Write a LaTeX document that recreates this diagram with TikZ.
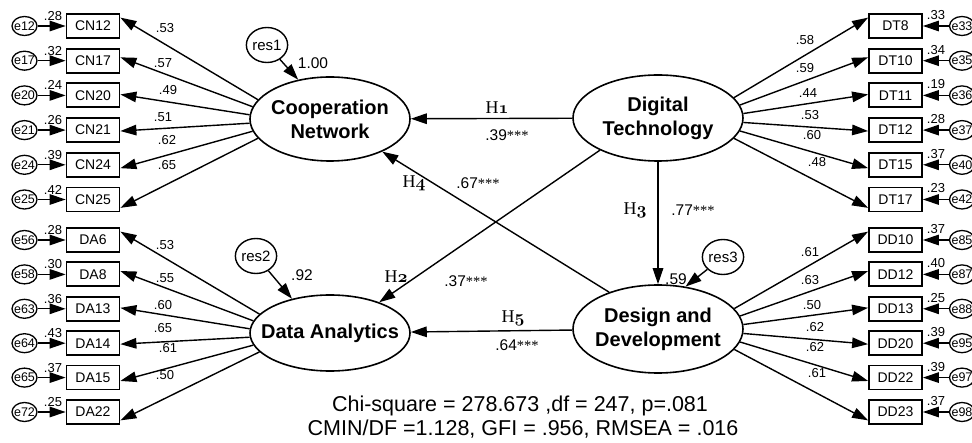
\documentclass[tikz,border=0pt]{standalone}
\usepackage{fontspec}
\setmainfont{Liberation Sans}
\newfontfamily\serifH{Liberation Serif}
\usetikzlibrary{arrows.meta,shapes.geometric}
\newcommand\zb[1]{\makebox[0pt]{#1}}
\newcommand\stars{{\serifH\fontsize{14.5}{16}\selectfont ***}}
\newcommand\hlab[1]{H{\boldmath$\mathnormal{#1}$}}
\tikzset{
 arr/.style={-{Triangle[length=16pt,width=10.5pt]}, line width=1.4pt},
 obs/.style={draw, line width=1.8pt, minimum width=53pt, minimum height=24pt, inner sep=0pt, font=\fontsize{14}{16}\selectfont},
 err/.style={draw, ellipse, line width=1.3pt, minimum width=25pt, minimum height=19pt, inner sep=0pt, font=\fontsize{12.5}{14}\selectfont},
 lat/.style={draw, ellipse, line width=1.6pt, inner sep=0pt, align=center, font=\bfseries\fontsize{20}{24}\selectfont},
 res/.style={draw, ellipse, line width=1.4pt, minimum width=40pt, minimum height=35pt, inner sep=0pt, font=\fontsize{15}{17}\selectfont},
 num/.style={inner sep=0pt, font=\fontsize{13}{15}\selectfont},
 coef/.style={inner sep=0pt, font=\fontsize{15.5}{17}\selectfont},
 hyp/.style={inner sep=0pt, font=\serifH\fontsize{18}{20}\selectfont},
 fitstat/.style={inner sep=0pt, font=\fontsize{21.5}{26}\selectfont},
}
\begin{document}
\begin{tikzpicture}[x=1pt,y=-1pt]
\useasboundingbox (0,0) rectangle (972,443);
% latent variables
\node[lat, minimum width=160pt, minimum height=84pt] (cn) at (330,119) {\zb{Cooperation}\\\zb{Network}};
\node[lat, minimum width=170pt, minimum height=86pt] (dt) at (658,118) {\zb{Digital}\\\zb{Technology}};
\node[lat, minimum width=160pt, minimum height=76pt] (da) at (330,333) {\zb{Data Analytics}};
\node[lat, minimum width=170pt, minimum height=88pt] (dd) at (658,329) {\zb{Design and}\\\zb{Development}};
% residuals
\node[res] (res1) at (267,45) {res1};
\node[res] (res2) at (256,256) {res2};
\node[res] (res3) at (723,257) {res3};
\draw[arr] (res1) -- (cn.129);
\draw[arr] (res2) -- (da.138);
\draw[arr] (res3) -- (dd.57);
\node[coef] (v1) at (313,63) {1.00};
\node[coef] (v2) at (302,275) {.92};
\node[coef] (v3) at (676,279) {.59};
% left top
\foreach \vn/\ve/\vr/\vy/\va/\vb/\vl/\lx/\ly in {
 CN12/e12/.28/26/165/17/.53/165/28,
 CN17/e17/.32/60.7/171/7/.57/163/63,
 CN20/e20/.24/95.4/177/2/.49/168/90,
 CN21/e21/.26/130.1/183/-2/.51/163/117,
 CN24/e24/.39/164.8/189/-7/.62/167/140,
 CN25/e25/.42/199.5/195/-17/.65/167/165}{
 \node[obs] (\vn) at (93,\vy) {\vn};
 \node[err] (\ve) at (24.5,\vy) {\zb{\ve}};
 \node[num] (r\vn) at (53,\vy-10) {\vr};
 \node[num] (l\vn) at (\lx,\ly) {\vl};
 \draw[arr] (\ve) -- (\vn);
 \draw[arr] (cn.\va) -- (\vn.\vb);
}
% left bottom
\foreach \vn/\ve/\vr/\vy/\va/\vb/\vl/\lx/\ly in {
 DA6/e56/.28/240/165/17/.53/165/245,
 DA8/e58/.30/274.4/171/7/.55/165/278,
 DA13/e63/.36/308.8/177/2/.60/163/305,
 DA14/e64/.43/343.2/183/-2/.65/163/328,
 DA15/e65/.37/377.6/189/-7/.61/168/348,
 DA22/e72/.25/412/195/-17/.50/165/375}{
 \node[obs] (\vn) at (93,\vy) {\vn};
 \node[err] (\ve) at (24.5,\vy) {\zb{\ve}};
 \node[num] (r\vn) at (53,\vy-10) {\vr};
 \node[num] (l\vn) at (\lx,\ly) {\vl};
 \draw[arr] (\ve) -- (\vn);
 \draw[arr] (da.\va) -- (\vn.\vb);
}
% right top
\foreach \vn/\ve/\vr/\vy/\va/\vb/\vl/\lx/\ly in {
 DT8/e33/.33/26/15/163/.58/805/40,
 DT10/e35/.34/60.7/9/173/.59/805/68,
 DT11/e36/.19/95.4/3/178/.44/808/93,
 DT12/e37/.28/130.1/-3/182/.53/810/115,
 DT15/e40/.37/164.8/-9/187/.60/812/135,
 DT17/e42/.23/199.5/-15/197/.48/817/162}{
 \node[obs] (\vn) at (895.5,\vy) {\vn};
 \node[err] (\ve) at (962,\vy) {\zb{\ve}};
 \node[num] (r\vn) at (936,\vy-11) {\vr};
 \node[num] (l\vn) at (\lx,\ly) {\vl};
 \draw[arr] (\ve) -- (\vn);
 \draw[arr] (dt.\va) -- (\vn.\vb);
}
% right bottom
\foreach \vn/\ve/\vr/\vy/\va/\vb/\vl/\lx/\ly in {
 DD10/e85/.37/240/15/163/.61/810/252,
 DD12/e87/.40/274.4/9/173/.63/810/280,
 DD13/e88/.25/308.8/3/178/.50/812/305,
 DD20/e95/.39/343.2/-3/182/.62/815/327,
 DD22/e97/.39/377.6/-9/187/.62/815/347,
 DD23/e98/.37/412/-15/197/.61/817/373}{
 \node[obs] (\vn) at (895.5,\vy) {\vn};
 \node[err] (\ve) at (962,\vy) {\zb{\ve}};
 \node[num] (r\vn) at (936,\vy-11) {\vr};
 \node[num] (l\vn) at (\lx,\ly) {\vl};
 \draw[arr] (\ve) -- (\vn);
 \draw[arr] (dd.\va) -- (\vn.\vb);
}
% structural paths
\draw[arr] (dt) -- (cn);
\draw[arr] (dd) -- (da);
\draw[arr] (dt.south) -- (dd.north);
\draw[arr] (dd.143) -- (cn.-32);
\draw[arr] (dt.209) -- (da.32);
\node[hyp] (h1) at (497,108) {\hlab{1}};
\node[coef] (c1) at (507,135) {.39\stars};
\node[hyp] (h2) at (396,277) {\hlab{2}};
\node[coef] (c2) at (466,281) {.37\stars};
\node[hyp] (h3) at (635,210) {\hlab{3}};
\node[coef] (c3) at (693,210) {.77\stars};
\node[hyp] (h4) at (414,183) {\hlab{4}};
\node[coef] (c4) at (478,183) {.67\stars};
\node[hyp] (h5) at (513,318) {\hlab{5}};
\node[coef] (c5) at (517,345) {.64\stars};
% fit statistics
\node[fitstat] (chi) at (520,406) {Chi-square = 278.673 ,df = 247, p=.081};
\node[fitstat] (cmin) at (523,429) {CMIN/DF =1.128, GFI = .956, RMSEA = .016};
\end{tikzpicture}
\end{document}
